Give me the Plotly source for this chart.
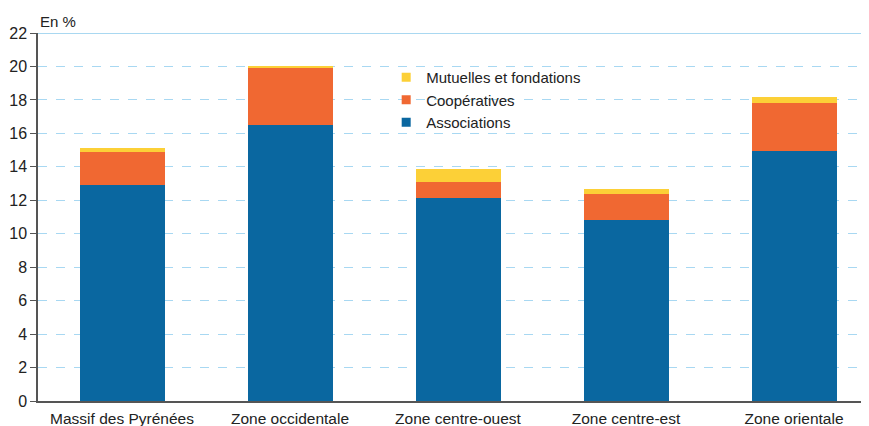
import plotly.graph_objects as go

categories = ["Massif des Pyrénées", "Zone occidentale", "Zone centre-ouest", "Zone centre-est", "Zone orientale"]
associations = [12.9, 16.5, 12.15, 10.8, 14.95]
cooperatives = [2.0, 3.45, 0.95, 1.6, 2.85]
mutuelles = [0.2, 0.05, 0.75, 0.3, 0.35]
y_ticks = list(range(0, 23, 2))

series = [("Associations", associations, "#0a67a0"),
          ("Coopératives", cooperatives, "#f06832"),
          ("Mutuelles et fondations", mutuelles, "#fcd037")]

fig = go.Figure()
for name, vals, col in series:
    fig.add_bar(x=categories, y=vals, name=name, marker_color=col, marker_line_width=0,
                width=0.506, showlegend=False)
for name, vals, col in series:
    fig.add_scatter(x=[None], y=[None], mode="markers", name=name,
                    marker=dict(symbol="square", size=9, color=col))

fig.add_shape(type="line", xref="paper", yref="y", x0=0, x1=1, y0=22, y1=22,
              line=dict(color="#8ccbec", width=1.5))

fig.update_layout(
    barmode="stack",
    width=861, height=418,
    margin=dict(l=30, r=0, t=24.5, b=24.5),
    plot_bgcolor="white", paper_bgcolor="white",
    font=dict(family="Liberation Sans, Arial, sans-serif", size=15, color="#222"),
    bargap=0,
    legend=dict(x=0.419, y=0.924, xanchor="left", yanchor="top", traceorder="reversed",
                font=dict(size=15), bgcolor="rgba(0,0,0,0)", itemwidth=30, tracegroupgap=0),
    annotations=[dict(text="En %", xref="paper", yref="paper", x=0.0, y=1.0, xanchor="left",
                      yanchor="bottom", showarrow=False, font=dict(size=15), yshift=1)],
)
fig.update_xaxes(range=[-0.5, -0.5 + 831 / 168], showline=True, linecolor="#555", linewidth=1.5,
                 ticks="", showgrid=False, tickfont=dict(size=15.5), automargin=False,
                 ticklabelstandoff=3)
fig.update_yaxes(range=[0, 22], tickvals=y_ticks, showline=True, linecolor="#555", linewidth=1.5,
                 ticks="outside", ticklen=6, tickcolor="#555", showgrid=True, gridcolor="#a8d8f2",
                 griddash="dash", gridwidth=1, zeroline=False, tickfont=dict(size=16), automargin=False)

fig.write_html("out.html")
